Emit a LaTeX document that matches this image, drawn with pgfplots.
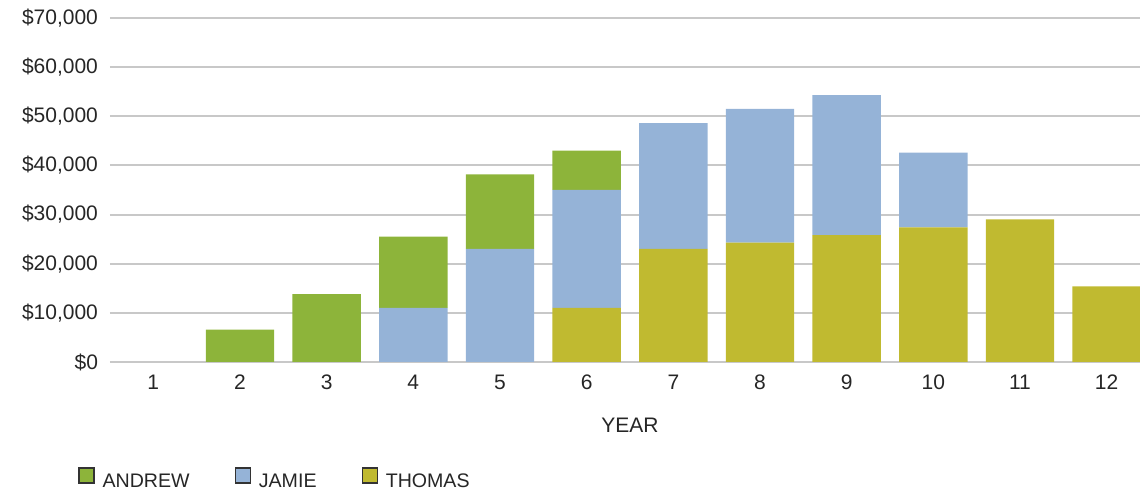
\documentclass[border=0pt]{standalone}
\usepackage{fontspec}
\setmainfont{Liberation Sans}
\usepackage{pgfplots}
\pgfplotsset{compat=1.18}
\definecolor{andrew}{RGB}{141,180,58}
\definecolor{jamie}{RGB}{149,179,215}
\definecolor{thomas}{RGB}{192,186,48}
\definecolor{gridc}{RGB}{200,200,200}
\begin{document}
\fontsize{10}{12}\selectfont
\begin{tikzpicture}
\useasboundingbox (-55pt,-64.5pt) rectangle (515pt,181pt);
\begin{axis}[
  at={(0,0)}, anchor=south west,
  scale only axis, width=520pt, height=172pt,
  ybar stacked, bar width=0.79,
  xmin=0.5, xmax=12.5, ymin=0, ymax=70000,
  scaled y ticks=false,
  xtick={1,2,3,4,5,6,7,8,9,10,11,12},
  ytick={0,10000,20000,30000,40000,50000,60000,70000},
  yticklabels={\$0,{\$10,000},{\$20,000},{\$30,000},{\$40,000},{\$50,000},{\$60,000},{\$70,000}},
  /pgf/number format/assume math mode=true,
  ymajorgrids, grid style={gridc, line width=1pt},
  axis line style={draw=none}, major tick length=0pt,
  xtick style={draw=none}, ytick style={draw=none},
  tick label style={font=\fontsize{10.5}{12}\selectfont, text=black!85},
  yticklabel style={xshift=-2.5pt},
  xticklabel style={yshift=-3pt},
  xlabel={YEAR},
  xlabel style={at={(axis description cs:0.5,0)}, anchor=center, yshift=-31.5pt, font=\fontsize{10.5}{12}\selectfont, text=black!85},
  legend style={draw=none, fill=none, at={(-0.0308,-0.340)}, anchor=west,
    inner sep=0pt, column sep=0pt, nodes={inner sep=0pt, font=\fontsize{9.8}{12}\selectfont, text=black!85}},
  legend columns=-1,
  legend cell align=left,
]
\addlegendimage{legend image code/.code={\draw[fill=andrew,draw=black!80,line width=0.8pt] (0pt,-0.3pt) rectangle (7.5pt,7.2pt); \path (11.5pt,0pt);}}
\addlegendentry{ANDREW\rule{22.5pt}{0pt}}
\addlegendimage{legend image code/.code={\draw[fill=jamie,draw=black!80,line width=0.8pt] (0pt,-0.3pt) rectangle (7.5pt,7.2pt); \path (11.5pt,0pt);}}
\addlegendentry{JAMIE\rule{22.5pt}{0pt}}
\addlegendimage{legend image code/.code={\draw[fill=thomas,draw=black!80,line width=0.8pt] (0pt,-0.3pt) rectangle (7.5pt,7.2pt); \path (11.5pt,0pt);}}
\addlegendentry{THOMAS}
% Thomas (bottom)
\addplot[fill=thomas, draw=none] coordinates {
 (1,0) (2,0) (3,0) (4,0) (5,0) (6,11000) (7,23000) (8,24300) (9,25800) (10,27400) (11,29000) (12,15400)};
% Jamie (middle)
\addplot[fill=jamie, draw=none] coordinates {
 (1,0) (2,0) (3,0) (4,11000) (5,23000) (6,24000) (7,25600) (8,27200) (9,28500) (10,15200) (11,0) (12,0)};
% Andrew (top)
\addplot[fill=andrew, draw=none] coordinates {
 (1,0) (2,6600) (3,13800) (4,14500) (5,15200) (6,8000) (7,0) (8,0) (9,0) (10,0) (11,0) (12,0)};
\end{axis}
\end{tikzpicture}
\end{document}
